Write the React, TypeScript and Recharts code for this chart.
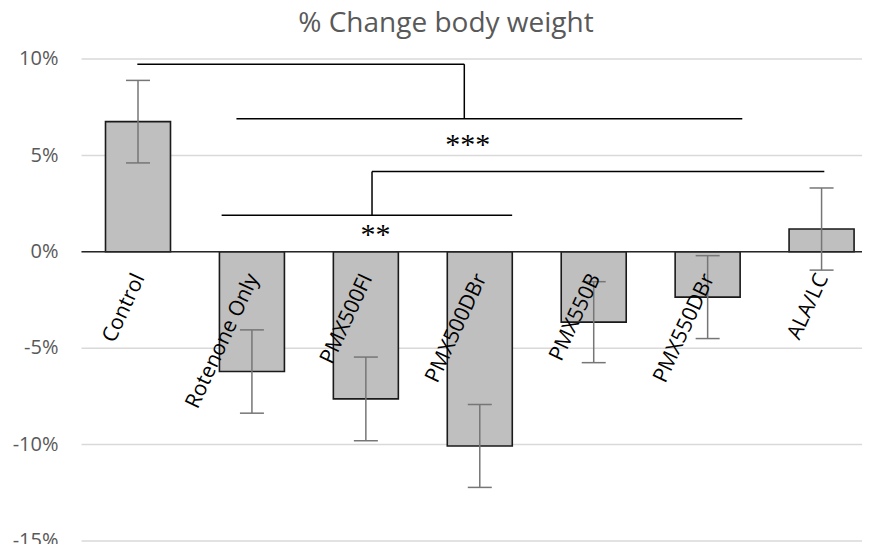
import React from 'react';
import { BarChart, Bar, XAxis, YAxis, CartesianGrid, ErrorBar, ReferenceLine, ReferenceDot, LabelList } from 'recharts';

const categories = ['Control', 'Rotenone Only', 'PMX500FI', 'PMX500DBr', 'PMX550B', 'PMX550DBr', 'ALA/LC'];
const changePct = [6.75, -6.21, -7.63, -10.07, -3.65, -2.35, 1.18];
const errorPct = [2.14, 2.16, 2.17, 2.15, 2.1, 2.15, 2.13];
const yTicks = [-15, -10, -5, 0, 5, 10];

// significance brackets: [x (category index, Control = 0), y (%)] pairs
const sigLines: number[][][] = [
  [[-0.01, 9.73], [2.86, 9.73]],
  [[2.86, 9.73], [2.86, 6.9]],
  [[0.86, 6.9], [5.3, 6.9]],
  [[2.05, 4.17], [6.02, 4.17]],
  [[2.05, 4.17], [2.05, 1.9]],
  [[0.73, 1.9], [3.28, 1.9]],
];
const sigMarks = [
  { x: 2.89, y: 5.65, text: '***' },
  { x: 2.08, y: 0.98, text: '**' },
];

const data = categories.map((name, i) => ({ name, value: changePct[i], err: errorPct[i] }));

const Y_MIN = -15;
const Y_MAX = 10;
const W = 890;
const H = 552;
const M_TOP = 59;
const M_BOTTOM = 11;
const N = categories.length;
// category position (index) -> numeric overlay axis spanning the plot as [0, N - 1]
const toNum = (p: number) => ((p + 0.5) * (N - 1)) / N;

const CategoryLabel = (props: any) => {
  const vb = props.viewBox || {};
  const x = props.x ?? vb.x;
  const y = props.y ?? vb.y;
  const w = props.width ?? vb.width;
  const h = props.height ?? vb.height;
  const name = String(props.value);
  const idx = categories.indexOf(name);
  const v = changePct[idx];
  const zeroY = v >= 0 ? Math.max(y, y + h) : Math.min(y, y + h);
  const ax = x + w / 2 + 7;
  const ay = zeroY + 26;
  return (
    <text
      x={ax}
      y={ay}
      transform={`rotate(-65, ${ax}, ${ay})`}
      textAnchor="end"
      fontFamily="'Open Sans', sans-serif"
      fontSize={21}
      fill="#000"
    >
      {name}
    </text>
  );
};

export default function App() {
  return (
    <div style={{ position: 'relative', margin: -8, width: 870, height: 552, overflow: 'hidden', background: '#fff' }}>
      <svg width={870} height={50} style={{ position: 'absolute', left: 0, top: 0 }}>
        <text x={446} y={32} textAnchor="middle" fontFamily="'Open Sans', sans-serif" fontSize={28} fill="#595959">
          % Change body weight
        </text>
      </svg>
      <BarChart width={W} height={H} data={data} margin={{ top: M_TOP, right: 11, bottom: M_BOTTOM, left: 0 }}>
        <CartesianGrid vertical={false} stroke="#d9d9d9" strokeWidth={1.5} />
        <YAxis
          domain={[Y_MIN, Y_MAX]}
          ticks={yTicks}
          width={81.5}
          tickLine={false}
          axisLine={false}
          tickSize={0}
          tickMargin={23}
          tickFormatter={(v: number) => `${v}%`}
          tick={{ fontFamily: "'Open Sans', sans-serif", fontSize: 20, fill: '#595959', dy: -1 }}
          interval={0}
        />
        <XAxis dataKey="name" hide />
        <XAxis xAxisId="num" type="number" domain={[0, N - 1]} hide allowDataOverflow />
        <ReferenceLine y={0} stroke="#262626" strokeWidth={1.5} />
        <Bar dataKey="value" fill="#bfbfbf" stroke="#1a1a1a" strokeWidth={1.6} barSize={65} isAnimationActive={false}>
          <ErrorBar dataKey="err" width={12} stroke="#767676" strokeWidth={1.5} direction="y" />
          <LabelList dataKey="name" content={(p: any) => <CategoryLabel {...p} />} />
        </Bar>
        {sigLines.map((seg, i) => (
          <ReferenceLine
            key={`s${i}`}
            xAxisId="num"
            segment={[{ x: toNum(seg[0][0]), y: seg[0][1] }, { x: toNum(seg[1][0]), y: seg[1][1] }]}
            stroke="#000"
            strokeWidth={1.5}
            ifOverflow="visible"
          />
        ))}
        {sigMarks.map((m, i) => (
          <ReferenceDot
            key={`m${i}`}
            xAxisId="num"
            x={toNum(m.x)}
            y={m.y}
            r={0}
            fill="none"
            stroke="none"
            ifOverflow="visible"
            label={{ value: m.text, position: 'center', fontFamily: "'Liberation Serif', serif", fontSize: 30, fill: '#000' }}
          />
        ))}
      </BarChart>
    </div>
  );
}
